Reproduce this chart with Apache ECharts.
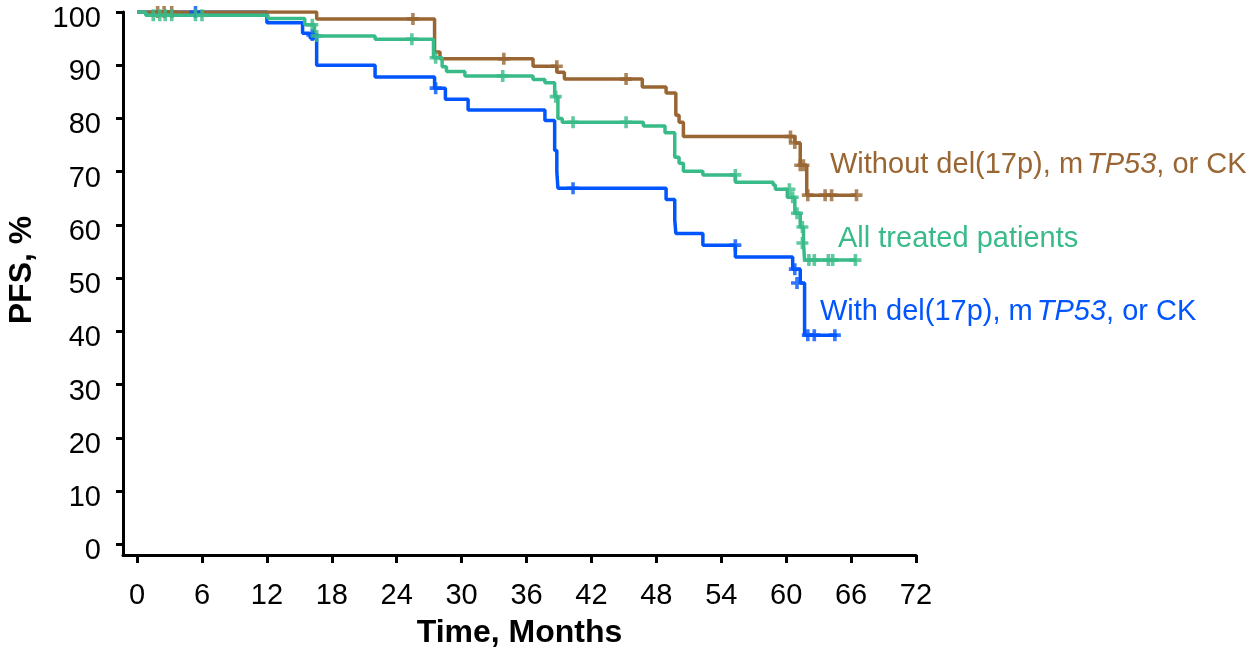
<!DOCTYPE html>
<html>
<head>
<meta charset="utf-8">
<script src="https://cdn.jsdelivr.net/npm/echarts@6/dist/echarts.min.js"></script>
<style>
  html, body { margin: 0; padding: 0; background: #fff; }
  #chart { width: 1255px; height: 649px; }
</style>
</head>
<body>
<div id="chart"></div>
<script>
// KM step curves: [month, PFS %] after each event
var monthTicks = [0, 6, 12, 18, 24, 30, 36, 42, 48, 54, 60, 66, 72];
var pfsTicks = [0, 10, 20, 30, 40, 50, 60, 70, 80, 90, 100];

var withoutCurve = [
  [0, 100], [16.6, 98.7], [27.5, 92.5], [28.0, 91.2], [36.6, 89.8], [38.8, 88.7],
  [39.5, 87.4], [46.7, 85.9], [48.9, 84.8], [49.8, 80.6], [50.1, 79.3], [50.5, 76.6],
  [60.8, 75.4], [61.3, 71.2], [61.9, 65.6], [66.5, 65.6]
];
var withoutCensor = [
  [1.9, 100], [2.5, 100], [3.2, 100], [25.5, 98.7], [33.9, 91.2], [38.8, 89.8],
  [45.2, 87.4], [60.4, 76.6], [60.8, 75.4], [61.3, 71.2], [61.6, 71.2], [62.0, 65.6],
  [63.6, 65.6], [64.2, 65.6], [66.5, 65.6]
];

var allCurve = [
  [0, 100], [0.8, 99.4], [12.1, 98.8], [15.5, 97.6], [16.4, 95.5], [22.0, 94.9],
  [27.4, 91.4], [28.2, 89.7], [28.6, 88.8], [30.3, 88.0], [36.6, 87.3], [37.7, 86.7],
  [38.6, 84.1], [38.9, 80.0], [39.3, 79.3], [46.8, 78.6], [48.8, 77.3], [49.7, 72.7],
  [50.1, 71.6], [50.5, 70.1], [52.3, 69.4], [55.3, 68.0], [58.8, 67.5], [59.0, 66.7],
  [60.1, 65.2], [60.8, 62.2], [61.3, 59.6], [61.6, 56.6], [61.7, 53.4], [66.5, 53.4]
];
var allCensor = [
  [1.5, 99.4], [2.1, 99.4], [2.6, 99.4], [3.2, 99.4], [5.4, 99.4], [6.0, 99.4],
  [16.2, 97.6], [16.6, 95.5], [25.4, 94.9], [27.6, 91.4], [33.8, 88.0], [38.7, 84.1],
  [40.3, 79.3], [45.2, 79.3], [55.3, 69.4], [60.3, 66.7], [60.6, 65.2], [61.0, 62.2],
  [61.5, 59.6], [61.5, 56.6], [62.1, 53.4], [62.6, 53.4], [63.9, 53.4], [64.3, 53.4],
  [66.4, 53.4]
];

var withCurve = [
  [0, 100], [12.0, 98.0], [15.3, 96.0], [16.0, 95.1], [16.6, 90.0], [22.0, 87.8],
  [27.5, 85.7], [28.5, 83.6], [30.6, 81.6], [37.7, 79.6], [38.6, 74.0], [38.8, 70.0],
  [38.9, 66.9], [48.9, 64.8], [49.7, 61.0], [49.8, 58.4], [52.3, 56.2], [55.3, 54.0],
  [60.6, 51.7], [61.3, 49.1], [61.7, 39.3], [64.7, 39.3]
];
var withCensor = [
  [5.4, 100], [16.2, 95.7], [27.6, 85.7], [40.3, 66.9], [55.3, 56.2], [60.8, 51.7],
  [61.0, 49.1], [62.0, 39.3], [62.6, 39.3], [64.5, 39.3]
];

var colWithout = '#996633';
var colAll = '#38bb88';
var colWith = '#0055ff';
var font = '"Liberation Sans", Arial, sans-serif';
var plus = 'path://M3.5,0H6.5V3.5H10V6.5H6.5V10H3.5V6.5H0V3.5H3.5Z';

function curve(name, data, color) {
  return {
    name: name, type: 'line', step: 'end', data: data,
    symbol: 'none', lineStyle: { color: color, width: 3.5 }, z: 2
  };
}
function censor(name, data, color) {
  return {
    name: name, type: 'scatter', data: data, symbol: plus, symbolSize: 12,
    itemStyle: { color: color }, z: 3
  };
}

var chart = echarts.init(document.getElementById('chart'));
chart.setOption({
  animation: false,
  grid: { left: 123, right: 339, top: 12, bottom: 94, containLabel: false, outerBoundsMode: 'none' },
  xAxis: {
    type: 'value', min: -1.3, max: 72,
    name: 'Time, Months', nameLocation: 'middle', nameGap: 62,
    nameTextStyle: { fontFamily: font, fontSize: 32, fontWeight: 'bold', color: '#000' },
    axisLine: { onZero: false, lineStyle: { color: '#000', width: 3 } },
    axisTick: { show: true, customValues: monthTicks, length: 8, lineStyle: { color: '#000', width: 3 } },
    axisLabel: { customValues: monthTicks, fontFamily: font, fontSize: 29, color: '#000', margin: 26 },
    splitLine: { show: false }
  },
  yAxis: {
    type: 'value', min: -2, max: 100,
    axisLine: { show: true, onZero: false, lineStyle: { color: '#000', width: 3 } },
    axisTick: { show: true, customValues: pfsTicks, length: 7, lineStyle: { color: '#000', width: 3 } },
    axisLabel: {
      customValues: pfsTicks, margin: 22,
      formatter: '{v|{value}}',
      rich: { v: { fontFamily: font, fontSize: 29, color: '#000', padding: [14, 0, 0, 0] } }
    },
    splitLine: { show: false }
  },
  graphic: [
    {
      type: 'text', x: 22, y: 270, rotation: Math.PI / 2,
      style: {
        text: 'PFS, %', fill: '#000', font: 'bold 32px ' + font,
        align: 'center', verticalAlign: 'middle'
      }
    },
    {
      type: 'text', left: 830, top: 150,
      style: {
        text: 'Without del(17p), m{i|TP53}, or CK', fill: colWithout,
        font: '29px ' + font,
        rich: { i: { fontStyle: 'italic', fontSize: 29, fontFamily: font, color: colWithout, padding: [0, 0, 0, 4] } }
      }
    },
    {
      type: 'text', left: 838, top: 224,
      style: { text: 'All treated patients', fill: colAll, font: '29px ' + font }
    },
    {
      type: 'text', left: 820, top: 297,
      style: {
        text: 'With del(17p), m{i|TP53}, or CK', fill: colWith,
        font: '29px ' + font,
        rich: { i: { fontStyle: 'italic', fontSize: 29, fontFamily: font, color: colWith, padding: [0, 0, 0, 4] } }
      }
    }
  ],
  series: [
    curve('With', withCurve, colWith),
    censor('With', withCensor, colWith),
    curve('Without', withoutCurve, colWithout),
    censor('Without', withoutCensor, colWithout),
    curve('All', allCurve, colAll),
    censor('All', allCensor, colAll)
  ]
});
</script>
</body>
</html>
